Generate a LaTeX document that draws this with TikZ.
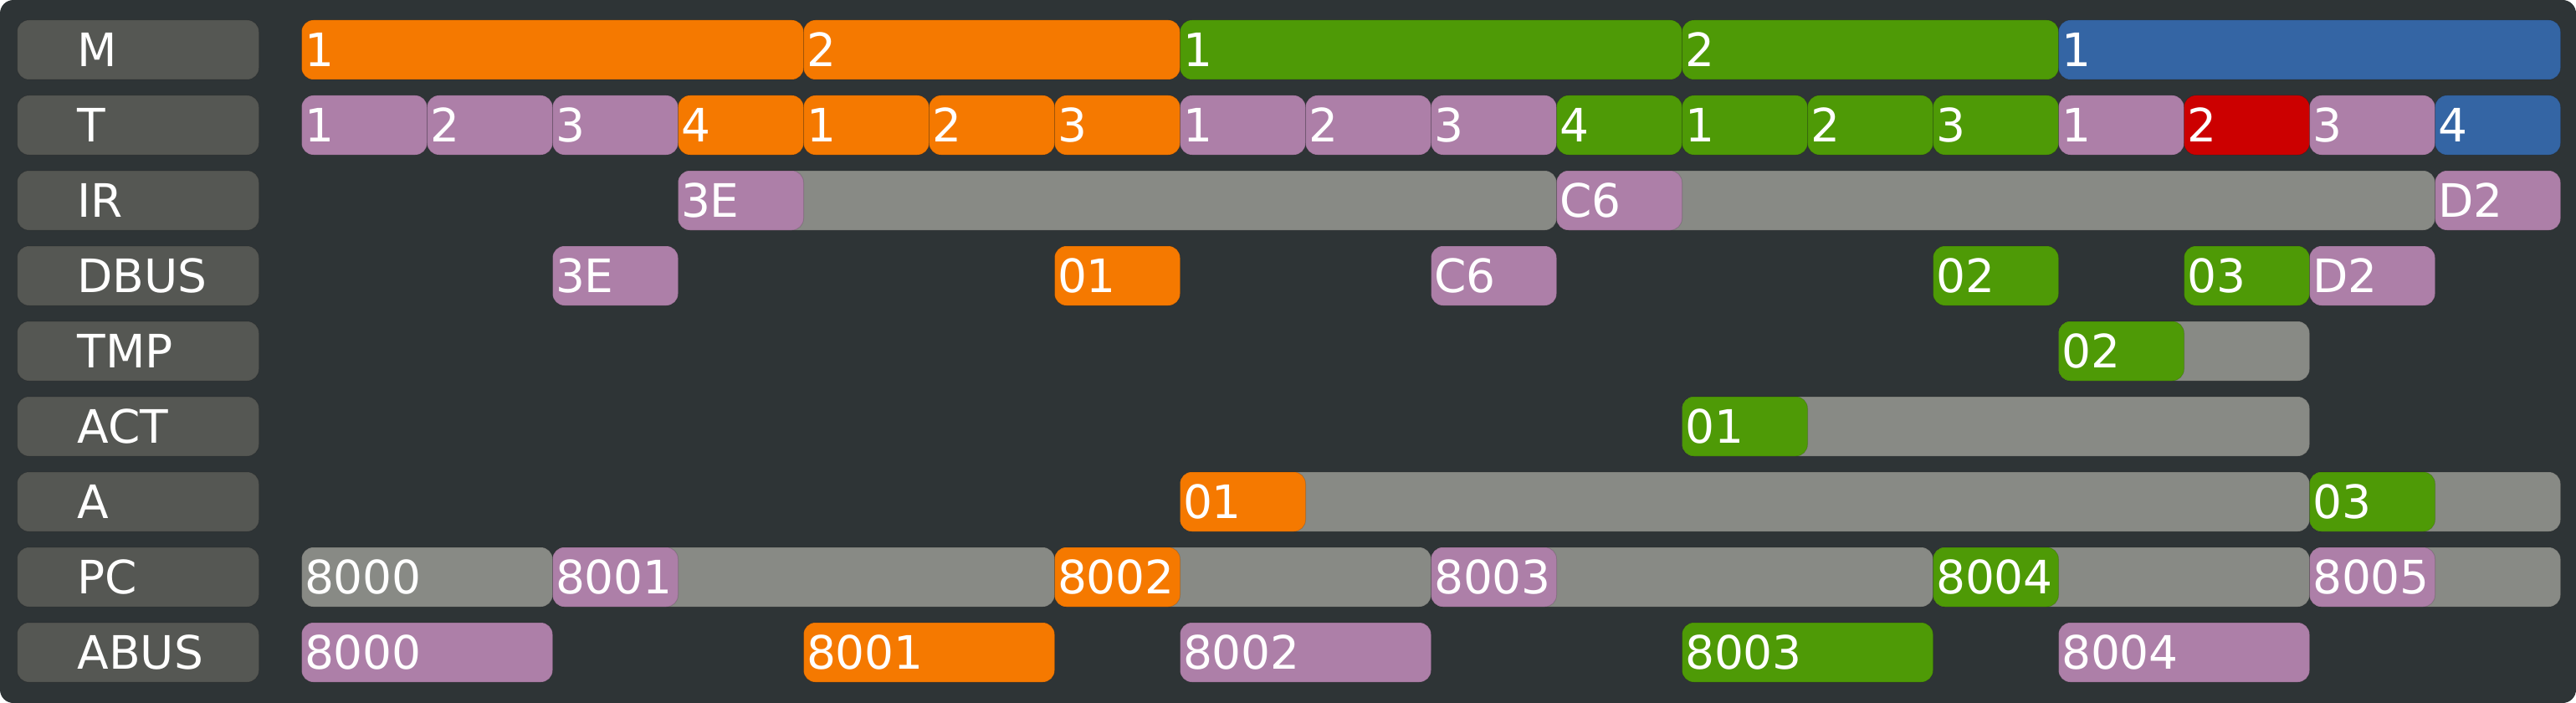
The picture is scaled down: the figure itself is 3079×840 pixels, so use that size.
\documentclass[tikz,border=0pt]{standalone}
\usepackage{fontspec}
\setmainfont{DejaVu Sans}
\usepackage{tikz}
\definecolor{bgdark}{HTML}{2E3436}
\definecolor{labeldark}{HTML}{555753}
\definecolor{idlegrey}{HTML}{888A85}
\definecolor{fetchplum}{HTML}{AD7FA8}
\definecolor{stepone}{HTML}{F57900}
\definecolor{steptwo}{HTML}{4E9A06}
\definecolor{stepthree}{HTML}{3465A4}
\definecolor{waitred}{HTML}{CC0000}

\begin{document}
\begin{tikzpicture}[x=1pt,y=-1pt]
        \tikzset{cell/.style = {shape=rectangle,rounded corners=14pt,minimum height=71pt,
                inner xsep=3.5pt,inner ysep=0pt,text height=40pt,text depth=0pt,
                align=left,anchor=west,text=white,font=\fontsize{55}{66}\selectfont,
                draw=black,draw opacity=0.12,line width=1pt}}
        \tikzset{rowlabel/.style = {cell,fill=labeldark,inner xsep=72pt,text width=145pt}}
        \tikzset{plum/.style = {cell,fill=fetchplum}}
        \tikzset{orng/.style = {cell,fill=stepone}}
        \tikzset{grn/.style = {cell,fill=steptwo}}
        \tikzset{blu/.style = {cell,fill=stepthree}}
        \tikzset{rd/.style = {cell,fill=waitred}}
        \tikzset{idle/.style = {cell,fill=idlegrey}}
        % frame
        \useasboundingbox (0,0) rectangle (3079,840);
        \fill[bgdark,rounded corners=16pt] (0,0) rectangle (3079,840);
        % row labels
        \node[rowlabel] (lM) at (20,59.5) {M};
        \node[rowlabel] (lT) at (20,149.5) {T};
        \node[rowlabel] (lIR) at (20,239.5) {IR};
        \node[rowlabel] (lDBUS) at (20,329.5) {DBUS};
        \node[rowlabel] (lTMP) at (20,419.5) {TMP};
        \node[rowlabel] (lACT) at (20,509.5) {ACT};
        \node[rowlabel] (lA) at (20,599.5) {A};
        \node[rowlabel] (lPC) at (20,689.5) {PC};
        \node[rowlabel] (lABUS) at (20,779.5) {ABUS};
        % machine cycles
        \node[orng,text width=593pt] (m1) at (360,59.5) {1};
        \node[orng,text width=443pt] (m2) at (960,59.5) {2};
        \node[grn,text width=593pt] (m3) at (1410,59.5) {1};
        \node[grn,text width=443pt] (m4) at (2010,59.5) {2};
        \node[blu,text width=593pt] (m5) at (2460,59.5) {1};
        % t-states
        \node[plum,text width=143pt] (t0) at (360,149.5) {1};
        \node[plum,text width=143pt] (t1) at (510,149.5) {2};
        \node[plum,text width=143pt] (t2) at (660,149.5) {3};
        \node[orng,text width=143pt] (t3) at (810,149.5) {4};
        \node[orng,text width=143pt] (t4) at (960,149.5) {1};
        \node[orng,text width=143pt] (t5) at (1110,149.5) {2};
        \node[orng,text width=143pt] (t6) at (1260,149.5) {3};
        \node[plum,text width=143pt] (t7) at (1410,149.5) {1};
        \node[plum,text width=143pt] (t8) at (1560,149.5) {2};
        \node[plum,text width=143pt] (t9) at (1710,149.5) {3};
        \node[grn,text width=143pt] (t10) at (1860,149.5) {4};
        \node[grn,text width=143pt] (t11) at (2010,149.5) {1};
        \node[grn,text width=143pt] (t12) at (2160,149.5) {2};
        \node[grn,text width=143pt] (t13) at (2310,149.5) {3};
        \node[plum,text width=143pt] (t14) at (2460,149.5) {1};
        \node[rd,text width=143pt] (t15) at (2610,149.5) {2};
        \node[plum,text width=143pt] (t16) at (2760,149.5) {3};
        \node[blu,text width=143pt] (t17) at (2910,149.5) {4};
        % instruction register
        \node[idle,text width=1043pt] (irA) at (810,239.5) {};
        \node[idle,text width=1043pt] (irB) at (1860,239.5) {};
        \node[plum,text width=143pt] (ir1) at (810,239.5) {3E};
        \node[plum,text width=143pt] (ir2) at (1860,239.5) {C6};
        \node[plum,text width=143pt] (ir3) at (2910,239.5) {D2};
        % data bus
        \node[plum,text width=143pt] (db1) at (660,329.5) {3E};
        \node[orng,text width=143pt] (db2) at (1260,329.5) {01};
        \node[plum,text width=143pt] (db3) at (1710,329.5) {C6};
        \node[grn,text width=143pt] (db4) at (2310,329.5) {02};
        \node[grn,text width=143pt] (db5) at (2610,329.5) {03};
        \node[plum,text width=143pt] (db6) at (2760,329.5) {D2};
        % tmp and act
        \node[idle,text width=293pt] (tmpA) at (2460,419.5) {};
        \node[grn,text width=143pt] (tmp1) at (2460,419.5) {02};
        \node[idle,text width=743pt] (actA) at (2010,509.5) {};
        \node[grn,text width=143pt] (act1) at (2010,509.5) {01};
        % accumulator
        \node[idle,text width=1343pt] (accA) at (1410,599.5) {};
        \node[idle,text width=293pt] (accB) at (2760,599.5) {};
        \node[orng,text width=143pt] (acc1) at (1410,599.5) {01};
        \node[grn,text width=143pt] (acc2) at (2760,599.5) {03};
        % program counter
        \node[idle,text width=293pt] (pc0) at (360,689.5) {8000};
        \node[idle,text width=593pt] (pcA) at (660,689.5) {};
        \node[idle,text width=443pt] (pcB) at (1260,689.5) {};
        \node[idle,text width=593pt] (pcC) at (1710,689.5) {};
        \node[idle,text width=443pt] (pcD) at (2310,689.5) {};
        \node[idle,text width=293pt] (pcE) at (2760,689.5) {};
        \node[plum,text width=143pt] (pc1) at (660,689.5) {8001};
        \node[orng,text width=143pt] (pc2) at (1260,689.5) {8002};
        \node[plum,text width=143pt] (pc3) at (1710,689.5) {8003};
        \node[grn,text width=143pt] (pc4) at (2310,689.5) {8004};
        \node[plum,text width=143pt] (pc5) at (2760,689.5) {8005};
        % address bus
        \node[plum,text width=293pt] (ab1) at (360,779.5) {8000};
        \node[orng,text width=293pt] (ab2) at (960,779.5) {8001};
        \node[plum,text width=293pt] (ab3) at (1410,779.5) {8002};
        \node[grn,text width=293pt] (ab4) at (2010,779.5) {8003};
        \node[plum,text width=293pt] (ab5) at (2460,779.5) {8004};

    \end{tikzpicture}
\end{document}
